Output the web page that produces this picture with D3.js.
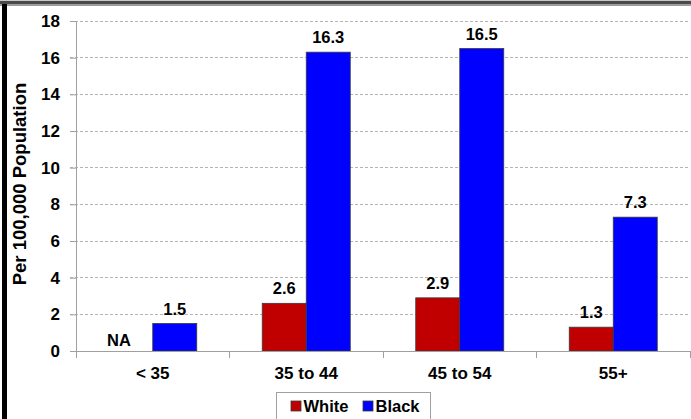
<!DOCTYPE html>
<html>
<head>
<meta charset="utf-8">
<script src="https://cdn.jsdelivr.net/npm/d3@7"></script>
<style>
  html, body { margin: 0; padding: 0; background: #fff; }
  svg { display: block; font-family: "Liberation Sans", Arial, sans-serif; font-weight: bold; }
</style>
</head>
<body>
<svg id="chart" width="691" height="419"></svg>
<script>
// Rates per 100,000 population by age group
const categories = ["< 35", "35 to 44", "45 to 54", "55+"];
const seriesNames = ["White", "Black"];
const whiteValues = [null, 2.6, 2.9, 1.3];   // null = not available
const blackValues = [1.5, 16.3, 16.5, 7.3];
const yTicks = [0, 2, 4, 6, 8, 10, 12, 14, 16, 18];
const colors = { White: "#C00000", Black: "#0000FF" };

const svg = d3.select("#chart");
const W = 691, H = 419;
const plot = { left: 76, right: 690, top: 21, bottom: 351 };

// Frame: dark band along the top and a heavy bar on the left
svg.append("rect").attr("x", 0).attr("y", 0).attr("width", W).attr("height", 1).attr("fill", "#c8c8c8");
svg.append("rect").attr("x", 0).attr("y", 1).attr("width", W).attr("height", 3.5).attr("fill", "#4a4a4a");
svg.append("rect").attr("x", 0).attr("y", 4.5).attr("width", W).attr("height", 1.5).attr("fill", "#9a9a9a");
svg.append("rect").attr("x", 2).attr("y", 4).attr("width", 5).attr("height", H).attr("fill", "#000");

const x = d3.scaleBand().domain(categories).range([plot.left, plot.right]).padding(0);
const xs = d3.scaleBand().domain(seriesNames).range([0, x.bandwidth()]).paddingInner(0).paddingOuter(0.744);
const y = d3.scaleLinear().domain([0, 18]).range([plot.bottom, plot.top]);

// Gridlines
svg.append("g").selectAll("line").data(yTicks.filter(t => t > 0)).join("line")
  .attr("x1", plot.left - 6).attr("x2", plot.right)
  .attr("y1", d => y(d)).attr("y2", d => y(d))
  .attr("stroke", "#b4b4b4").attr("stroke-width", 1).attr("stroke-dasharray", "3,2")
  .attr("shape-rendering", "crispEdges");

// Y axis
const yAxis = svg.append("g").attr("transform", `translate(${plot.left},0)`)
  .call(d3.axisLeft(y).tickValues(yTicks).tickSize(6).tickPadding(10).tickFormat(d3.format("d")));
yAxis.select(".domain").attr("stroke", "#a0a0a0");
yAxis.selectAll(".tick line").attr("stroke", "#a0a0a0");
yAxis.selectAll("text").attr("font-size", 17).attr("font-family", "Liberation Sans, Arial, sans-serif")
  .attr("font-weight", "bold").attr("fill", "#000");

// Y axis title
svg.append("text")
  .attr("transform", `translate(26,${(plot.top + plot.bottom) / 2 - 2}) rotate(-90)`)
  .attr("text-anchor", "middle").attr("font-size", 18.5).attr("fill", "#000")
  .text("Per 100,000 Population");

// Bars
const rows = categories.map((c, i) => ({ cat: c, values: [
  { name: "White", v: whiteValues[i] },
  { name: "Black", v: blackValues[i] }
]}));

const groups = svg.append("g").selectAll("g").data(rows).join("g")
  .attr("transform", d => `translate(${x(d.cat)},0)`);

groups.selectAll("rect").data(d => d.values.filter(s => s.v != null)).join("rect")
  .attr("x", d => xs(d.name)).attr("width", xs.bandwidth())
  .attr("y", d => y(d.v)).attr("height", d => y(0) - y(d.v))
  .attr("fill", d => colors[d.name]).attr("stroke", "#3a3a3a").attr("stroke-width", 0.8);

// Value labels
groups.selectAll("text.val").data(d => d.values.filter(s => s.v != null)).join("text")
  .attr("class", "val")
  .attr("x", d => xs(d.name) + xs.bandwidth() / 2).attr("y", d => y(d.v) - 9)
  .attr("text-anchor", "middle").attr("font-size", 16.5).attr("fill", "#000")
  .text(d => d3.format(".1f")(d.v));

// "NA" marker where no rate is available
groups.selectAll("text.na").data(d => d.values.filter(s => s.v == null)).join("text")
  .attr("class", "na")
  .attr("x", x.bandwidth() * 0.28).attr("y", y(0) - 5)
  .attr("text-anchor", "middle").attr("font-size", 16.5).attr("fill", "#000")
  .text("NA");

// X axis
const xAxisG = svg.append("g");
xAxisG.append("line").attr("x1", plot.left).attr("x2", plot.right)
  .attr("y1", y(0)).attr("y2", y(0)).attr("stroke", "#a0a0a0").attr("shape-rendering", "crispEdges");
const bounds = categories.map(c => x(c)).concat([plot.right]);
xAxisG.selectAll("line.tk").data(bounds).join("line").attr("class", "tk")
  .attr("x1", d => d).attr("x2", d => d).attr("y1", y(0)).attr("y2", y(0) + 7)
  .attr("stroke", "#a0a0a0").attr("shape-rendering", "crispEdges");
xAxisG.selectAll("text").data(categories).join("text")
  .attr("x", d => x(d) + x.bandwidth() / 2).attr("y", 379)
  .attr("text-anchor", "middle").attr("font-size", 17).attr("fill", "#000")
  .text(d => d);

// Legend
const legend = svg.append("g");
legend.append("rect").attr("x", 276.5).attr("y", 392.5).attr("width", 154).attr("height", 40)
  .attr("fill", "#fff").attr("stroke", "#a0a0a0");
const legendPos = [291, 363];
const li = legend.selectAll("g").data(seriesNames).join("g")
  .attr("transform", (d, i) => `translate(${legendPos[i]},401)`);
li.append("rect").attr("width", 10).attr("height", 10)
  .attr("fill", d => colors[d]).attr("stroke", "#3a3a3a").attr("stroke-width", 0.8);
li.append("text").attr("x", 12.5).attr("y", 11).attr("font-size", 16.5).attr("fill", "#000").text(d => d);
</script>
</body>
</html>
